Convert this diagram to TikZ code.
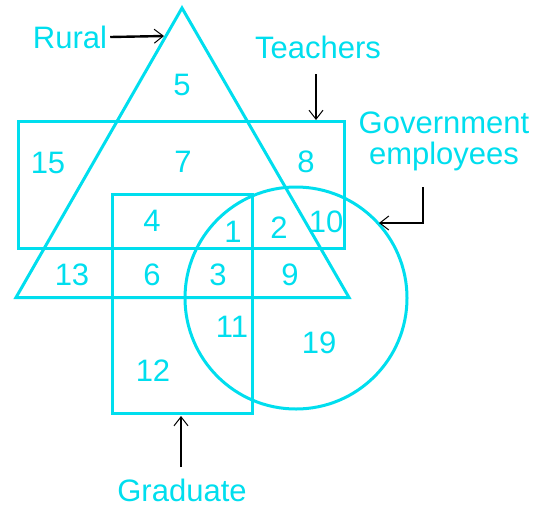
\documentclass[tikz,border=0pt]{standalone}
\usepackage{fontspec}
\setmainfont{Liberation Sans}
\usetikzlibrary{arrows.meta}
\definecolor{cy}{RGB}{0,222,238}
\begin{document}
\begin{tikzpicture}[x=1pt,y=-1pt,
  shapeline/.style={draw=cy,line width=3pt,line join=miter},
  num/.style={text=cy,font=\fontsize{31}{36}\selectfont,inner sep=0pt},
  lbl/.style={text=cy,font=\fontsize{31}{36}\selectfont,inner sep=0pt,align=center},
  pointer/.style={draw=black,line width=2.4pt,-{Straight Barb[length=9pt,width=14pt,line width=1pt]}}]
\useasboundingbox (0,0) rectangle (545,507);
% shapes
\coordinate (tA) at (182,8);
\coordinate (tL) at (16,297.5);
\coordinate (tR) at (349,297.5);
\draw[shapeline] (tA) -- (tL) -- (tR) -- cycle;
\draw[shapeline] (18.5,121.5) rectangle (344.5,248.5);
\draw[shapeline] (112.5,194.5) rectangle (252.5,413.5);
\draw[shapeline] (296,298) circle[radius=111];
% numbers
\node[num] (n5) at (182,85) {5};
\node[num] (n15) at (48,163) {15};
\node[num] (n7) at (183,162) {7};
\node[num] (n8) at (306,162) {8};
\node[num] (n4) at (152,221) {4};
\node[num] (n1) at (233,232) {1};
\node[num] (n2) at (279,228) {2};
\node[num] (n10) at (326,222) {10};
\node[num] (n13) at (72,275) {13};
\node[num] (n6) at (152,275) {6};
\node[num] (n3) at (218,275) {3};
\node[num] (n9) at (290,275) {9};
\node[num] (n11) at (232,327) {11};
\node[num] (n19) at (319,343) {19};
\node[num] (n12) at (153,371) {12};
% labels
\node[lbl] (rural) at (70,37) {Rural};
\node[lbl] (teach) at (318,47) {Teachers};
\node[lbl] (gov) at (444,141) {Government\\[-5pt]employees};
\node[lbl] (grad) at (182,490) {Graduate};
% pointers
\coordinate (ruralTip) at (164,36);
\coordinate (teachStart) at (316,74);
\coordinate (teachTip) at (316,120);
\coordinate (govStart) at (423,187);
\coordinate (govBend) at (423,223);
\coordinate (govTip) at (379,223);
\coordinate (gradStart) at (181,467);
\coordinate (gradTip) at (181,416);
\draw[pointer] (rural.east) ++(3,0) -- (ruralTip);
\draw[pointer] (teachStart) -- (teachTip);
\draw[pointer] (govStart) -- (govBend) -- (govTip);
\draw[pointer] (gradStart) -- (gradTip);
\end{tikzpicture}
\end{document}
